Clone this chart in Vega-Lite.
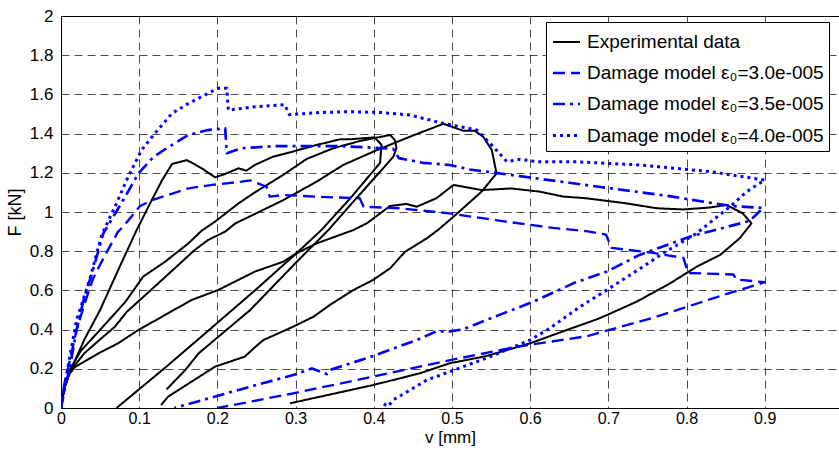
{
"$schema":"https://vega.github.io/schema/vega-lite/v6.json",
"width":778,"height":392,
"autosize":{"type":"none"},
"padding":{"left":61,"top":16,"right":0,"bottom":42},
"background":"white",
"config":{"view":{"stroke":"#000","strokeWidth":1},"font":"Liberation Sans"},
"datasets":{"pts":[
{"s":"Experimental data","g":"e1","i":1,"v":0,"F":0},
{"s":"Experimental data","g":"e1","i":2,"v":0.004,"F":0.1},
{"s":"Experimental data","g":"e1","i":3,"v":0.012,"F":0.19},
{"s":"Experimental data","g":"e1","i":4,"v":0.03,"F":0.35},
{"s":"Experimental data","g":"e1","i":5,"v":0.05,"F":0.5},
{"s":"Experimental data","g":"e1","i":6,"v":0.075,"F":0.72},
{"s":"Experimental data","g":"e1","i":7,"v":0.097,"F":0.91},
{"s":"Experimental data","g":"e1","i":8,"v":0.116,"F":1.06},
{"s":"Experimental data","g":"e1","i":9,"v":0.129,"F":1.16},
{"s":"Experimental data","g":"e1","i":10,"v":0.142,"F":1.245},
{"s":"Experimental data","g":"e1","i":11,"v":0.161,"F":1.265},
{"s":"Experimental data","g":"e1","i":12,"v":0.18,"F":1.223},
{"s":"Experimental data","g":"e1","i":13,"v":0.197,"F":1.177},
{"s":"Experimental data","g":"e1","i":14,"v":0.21,"F":1.194},
{"s":"Experimental data","g":"e1","i":15,"v":0.227,"F":1.223},
{"s":"Experimental data","g":"e1","i":16,"v":0.237,"F":1.211},
{"s":"Experimental data","g":"e1","i":17,"v":0.248,"F":1.24},
{"s":"Experimental data","g":"e1","i":18,"v":0.271,"F":1.282},
{"s":"Experimental data","g":"e1","i":19,"v":0.297,"F":1.309},
{"s":"Experimental data","g":"e1","i":20,"v":0.327,"F":1.342},
{"s":"Experimental data","g":"e1","i":21,"v":0.357,"F":1.371},
{"s":"Experimental data","g":"e1","i":22,"v":0.37,"F":1.371},
{"s":"Experimental data","g":"e1","i":23,"v":0.401,"F":1.381},
{"s":"Experimental data","g":"e1","i":24,"v":0.41,"F":1.342},
{"s":"Experimental data","g":"e1","i":25,"v":0.408,"F":1.25},
{"s":"Experimental data","g":"e1","i":26,"v":0.37,"F":1.07},
{"s":"Experimental data","g":"e1","i":27,"v":0.333,"F":0.908},
{"s":"Experimental data","g":"e1","i":28,"v":0.3,"F":0.785},
{"s":"Experimental data","g":"e1","i":29,"v":0.248,"F":0.6},
{"s":"Experimental data","g":"e1","i":30,"v":0.19,"F":0.4},
{"s":"Experimental data","g":"e1","i":31,"v":0.133,"F":0.205},
{"s":"Experimental data","g":"e1","i":32,"v":0.071,"F":0},
{"s":"Experimental data","g":"e2","i":33,"v":0,"F":0},
{"s":"Experimental data","g":"e2","i":34,"v":0.004,"F":0.1},
{"s":"Experimental data","g":"e2","i":35,"v":0.012,"F":0.2},
{"s":"Experimental data","g":"e2","i":36,"v":0.025,"F":0.29},
{"s":"Experimental data","g":"e2","i":37,"v":0.048,"F":0.39},
{"s":"Experimental data","g":"e2","i":38,"v":0.082,"F":0.54},
{"s":"Experimental data","g":"e2","i":39,"v":0.105,"F":0.67},
{"s":"Experimental data","g":"e2","i":40,"v":0.133,"F":0.746},
{"s":"Experimental data","g":"e2","i":41,"v":0.163,"F":0.84},
{"s":"Experimental data","g":"e2","i":42,"v":0.18,"F":0.905},
{"s":"Experimental data","g":"e2","i":43,"v":0.197,"F":0.951},
{"s":"Experimental data","g":"e2","i":44,"v":0.227,"F":1.044},
{"s":"Experimental data","g":"e2","i":45,"v":0.248,"F":1.1},
{"s":"Experimental data","g":"e2","i":46,"v":0.284,"F":1.189},
{"s":"Experimental data","g":"e2","i":47,"v":0.314,"F":1.27},
{"s":"Experimental data","g":"e2","i":48,"v":0.348,"F":1.325},
{"s":"Experimental data","g":"e2","i":49,"v":0.382,"F":1.362},
{"s":"Experimental data","g":"e2","i":50,"v":0.421,"F":1.393},
{"s":"Experimental data","g":"e2","i":51,"v":0.427,"F":1.367},
{"s":"Experimental data","g":"e2","i":52,"v":0.429,"F":1.325},
{"s":"Experimental data","g":"e2","i":53,"v":0.425,"F":1.282},
{"s":"Experimental data","g":"e2","i":54,"v":0.38,"F":1.08},
{"s":"Experimental data","g":"e2","i":55,"v":0.342,"F":0.908},
{"s":"Experimental data","g":"e2","i":56,"v":0.301,"F":0.744},
{"s":"Experimental data","g":"e2","i":57,"v":0.242,"F":0.5},
{"s":"Experimental data","g":"e2","i":58,"v":0.176,"F":0.279},
{"s":"Experimental data","g":"e2","i":59,"v":0.159,"F":0.194},
{"s":"Experimental data","g":"e2","i":60,"v":0.135,"F":0.095},
{"s":"Experimental data","g":"e3","i":61,"v":0,"F":0},
{"s":"Experimental data","g":"e3","i":62,"v":0.004,"F":0.1},
{"s":"Experimental data","g":"e3","i":63,"v":0.012,"F":0.19},
{"s":"Experimental data","g":"e3","i":64,"v":0.03,"F":0.28},
{"s":"Experimental data","g":"e3","i":65,"v":0.05,"F":0.35},
{"s":"Experimental data","g":"e3","i":66,"v":0.069,"F":0.415},
{"s":"Experimental data","g":"e3","i":67,"v":0.084,"F":0.49},
{"s":"Experimental data","g":"e3","i":68,"v":0.12,"F":0.62},
{"s":"Experimental data","g":"e3","i":69,"v":0.171,"F":0.806},
{"s":"Experimental data","g":"e3","i":70,"v":0.188,"F":0.857},
{"s":"Experimental data","g":"e3","i":71,"v":0.21,"F":0.9},
{"s":"Experimental data","g":"e3","i":72,"v":0.223,"F":0.942},
{"s":"Experimental data","g":"e3","i":73,"v":0.248,"F":0.99},
{"s":"Experimental data","g":"e3","i":74,"v":0.284,"F":1.06},
{"s":"Experimental data","g":"e3","i":75,"v":0.327,"F":1.155},
{"s":"Experimental data","g":"e3","i":76,"v":0.361,"F":1.24},
{"s":"Experimental data","g":"e3","i":77,"v":0.404,"F":1.316},
{"s":"Experimental data","g":"e3","i":78,"v":0.45,"F":1.39},
{"s":"Experimental data","g":"e3","i":79,"v":0.489,"F":1.45},
{"s":"Experimental data","g":"e3","i":80,"v":0.502,"F":1.432},
{"s":"Experimental data","g":"e3","i":81,"v":0.514,"F":1.415},
{"s":"Experimental data","g":"e3","i":82,"v":0.529,"F":1.415},
{"s":"Experimental data","g":"e3","i":83,"v":0.54,"F":1.384},
{"s":"Experimental data","g":"e3","i":84,"v":0.551,"F":1.316},
{"s":"Experimental data","g":"e3","i":85,"v":0.557,"F":1.197},
{"s":"Experimental data","g":"e3","i":86,"v":0.538,"F":1.104},
{"s":"Experimental data","g":"e3","i":87,"v":0.502,"F":0.976},
{"s":"Experimental data","g":"e3","i":88,"v":0.482,"F":0.908},
{"s":"Experimental data","g":"e3","i":89,"v":0.468,"F":0.866},
{"s":"Experimental data","g":"e3","i":90,"v":0.44,"F":0.797},
{"s":"Experimental data","g":"e3","i":91,"v":0.421,"F":0.713},
{"s":"Experimental data","g":"e3","i":92,"v":0.399,"F":0.653},
{"s":"Experimental data","g":"e3","i":93,"v":0.374,"F":0.602},
{"s":"Experimental data","g":"e3","i":94,"v":0.344,"F":0.526},
{"s":"Experimental data","g":"e3","i":95,"v":0.323,"F":0.466},
{"s":"Experimental data","g":"e3","i":96,"v":0.297,"F":0.415},
{"s":"Experimental data","g":"e3","i":97,"v":0.259,"F":0.347},
{"s":"Experimental data","g":"e3","i":98,"v":0.248,"F":0.31},
{"s":"Experimental data","g":"e3","i":99,"v":0.235,"F":0.262},
{"s":"Experimental data","g":"e3","i":100,"v":0.197,"F":0.211},
{"s":"Experimental data","g":"e3","i":101,"v":0.137,"F":0.058},
{"s":"Experimental data","g":"e3","i":102,"v":0.128,"F":0.015},
{"s":"Experimental data","g":"e4","i":103,"v":0,"F":0},
{"s":"Experimental data","g":"e4","i":104,"v":0.004,"F":0.1},
{"s":"Experimental data","g":"e4","i":105,"v":0.01,"F":0.17},
{"s":"Experimental data","g":"e4","i":106,"v":0.018,"F":0.21},
{"s":"Experimental data","g":"e4","i":107,"v":0.048,"F":0.279},
{"s":"Experimental data","g":"e4","i":108,"v":0.073,"F":0.33},
{"s":"Experimental data","g":"e4","i":109,"v":0.099,"F":0.398},
{"s":"Experimental data","g":"e4","i":110,"v":0.167,"F":0.551},
{"s":"Experimental data","g":"e4","i":111,"v":0.201,"F":0.602},
{"s":"Experimental data","g":"e4","i":112,"v":0.248,"F":0.696},
{"s":"Experimental data","g":"e4","i":113,"v":0.284,"F":0.746},
{"s":"Experimental data","g":"e4","i":114,"v":0.301,"F":0.789},
{"s":"Experimental data","g":"e4","i":115,"v":0.327,"F":0.84},
{"s":"Experimental data","g":"e4","i":116,"v":0.374,"F":0.908},
{"s":"Experimental data","g":"e4","i":117,"v":0.391,"F":0.942},
{"s":"Experimental data","g":"e4","i":118,"v":0.421,"F":1.031},
{"s":"Experimental data","g":"e4","i":119,"v":0.442,"F":1.041},
{"s":"Experimental data","g":"e4","i":120,"v":0.455,"F":1.027},
{"s":"Experimental data","g":"e4","i":121,"v":0.48,"F":1.07},
{"s":"Experimental data","g":"e4","i":122,"v":0.502,"F":1.138},
{"s":"Experimental data","g":"e4","i":123,"v":0.538,"F":1.112},
{"s":"Experimental data","g":"e4","i":124,"v":0.576,"F":1.12},
{"s":"Experimental data","g":"e4","i":125,"v":0.612,"F":1.104},
{"s":"Experimental data","g":"e4","i":126,"v":0.642,"F":1.079},
{"s":"Experimental data","g":"e4","i":127,"v":0.672,"F":1.07},
{"s":"Experimental data","g":"e4","i":128,"v":0.723,"F":1.044},
{"s":"Experimental data","g":"e4","i":129,"v":0.762,"F":1.019},
{"s":"Experimental data","g":"e4","i":130,"v":0.796,"F":1.013},
{"s":"Experimental data","g":"e4","i":131,"v":0.83,"F":1.023},
{"s":"Experimental data","g":"e4","i":132,"v":0.851,"F":1.036},
{"s":"Experimental data","g":"e4","i":133,"v":0.872,"F":0.993},
{"s":"Experimental data","g":"e4","i":134,"v":0.883,"F":0.942},
{"s":"Experimental data","g":"e4","i":135,"v":0.868,"F":0.866},
{"s":"Experimental data","g":"e4","i":136,"v":0.843,"F":0.781},
{"s":"Experimental data","g":"e4","i":137,"v":0.813,"F":0.721},
{"s":"Experimental data","g":"e4","i":138,"v":0.779,"F":0.636},
{"s":"Experimental data","g":"e4","i":139,"v":0.736,"F":0.542},
{"s":"Experimental data","g":"e4","i":140,"v":0.698,"F":0.474},
{"s":"Experimental data","g":"e4","i":141,"v":0.685,"F":0.452},
{"s":"Experimental data","g":"e4","i":142,"v":0.642,"F":0.391},
{"s":"Experimental data","g":"e4","i":143,"v":0.6,"F":0.33},
{"s":"Experimental data","g":"e4","i":144,"v":0.544,"F":0.265},
{"s":"Experimental data","g":"e4","i":145,"v":0.497,"F":0.228},
{"s":"Experimental data","g":"e4","i":146,"v":0.459,"F":0.177},
{"s":"Experimental data","g":"e4","i":147,"v":0.399,"F":0.117},
{"s":"Experimental data","g":"e4","i":148,"v":0.293,"F":0.024},
{"s":"Damage model ε₀=3.0e-005","g":"a","i":201,"v":0,"F":0},
{"s":"Damage model ε₀=3.0e-005","g":"a","i":202,"v":0.004,"F":0.12},
{"s":"Damage model ε₀=3.0e-005","g":"a","i":203,"v":0.01,"F":0.22},
{"s":"Damage model ε₀=3.0e-005","g":"a","i":204,"v":0.02,"F":0.4},
{"s":"Damage model ε₀=3.0e-005","g":"a","i":205,"v":0.03,"F":0.53},
{"s":"Damage model ε₀=3.0e-005","g":"a","i":206,"v":0.041,"F":0.66},
{"s":"Damage model ε₀=3.0e-005","g":"a","i":207,"v":0.055,"F":0.77},
{"s":"Damage model ε₀=3.0e-005","g":"a","i":208,"v":0.073,"F":0.9},
{"s":"Damage model ε₀=3.0e-005","g":"a","i":209,"v":0.08,"F":0.928},
{"s":"Damage model ε₀=3.0e-005","g":"a","i":210,"v":0.101,"F":1.03},
{"s":"Damage model ε₀=3.0e-005","g":"a","i":211,"v":0.116,"F":1.06},
{"s":"Damage model ε₀=3.0e-005","g":"a","i":212,"v":0.137,"F":1.087},
{"s":"Damage model ε₀=3.0e-005","g":"a","i":213,"v":0.163,"F":1.121},
{"s":"Damage model ε₀=3.0e-005","g":"a","i":214,"v":0.193,"F":1.138},
{"s":"Damage model ε₀=3.0e-005","g":"a","i":215,"v":0.231,"F":1.155},
{"s":"Damage model ε₀=3.0e-005","g":"a","i":216,"v":0.242,"F":1.161},
{"s":"Damage model ε₀=3.0e-005","g":"a","i":217,"v":0.263,"F":1.129},
{"s":"Damage model ε₀=3.0e-005","g":"a","i":218,"v":0.267,"F":1.078},
{"s":"Damage model ε₀=3.0e-005","g":"a","i":219,"v":0.284,"F":1.087},
{"s":"Damage model ε₀=3.0e-005","g":"a","i":220,"v":0.327,"F":1.078},
{"s":"Damage model ε₀=3.0e-005","g":"a","i":221,"v":0.382,"F":1.07},
{"s":"Damage model ε₀=3.0e-005","g":"a","i":222,"v":0.387,"F":1.027},
{"s":"Damage model ε₀=3.0e-005","g":"a","i":223,"v":0.434,"F":1.019},
{"s":"Damage model ε₀=3.0e-005","g":"a","i":224,"v":0.497,"F":0.993},
{"s":"Damage model ε₀=3.0e-005","g":"a","i":225,"v":0.565,"F":0.953},
{"s":"Damage model ε₀=3.0e-005","g":"a","i":226,"v":0.629,"F":0.919},
{"s":"Damage model ε₀=3.0e-005","g":"a","i":227,"v":0.672,"F":0.902},
{"s":"Damage model ε₀=3.0e-005","g":"a","i":228,"v":0.697,"F":0.885},
{"s":"Damage model ε₀=3.0e-005","g":"a","i":229,"v":0.704,"F":0.817},
{"s":"Damage model ε₀=3.0e-005","g":"a","i":230,"v":0.757,"F":0.791},
{"s":"Damage model ε₀=3.0e-005","g":"a","i":231,"v":0.796,"F":0.766},
{"s":"Damage model ε₀=3.0e-005","g":"a","i":232,"v":0.802,"F":0.689},
{"s":"Damage model ε₀=3.0e-005","g":"a","i":233,"v":0.86,"F":0.681},
{"s":"Damage model ε₀=3.0e-005","g":"a","i":234,"v":0.864,"F":0.655},
{"s":"Damage model ε₀=3.0e-005","g":"a","i":235,"v":0.9,"F":0.642},
{"s":"Damage model ε₀=3.0e-005","g":"a","i":236,"v":0.842,"F":0.57},
{"s":"Damage model ε₀=3.0e-005","g":"a","i":237,"v":0.757,"F":0.46},
{"s":"Damage model ε₀=3.0e-005","g":"a","i":238,"v":0.672,"F":0.366},
{"s":"Damage model ε₀=3.0e-005","g":"a","i":239,"v":0.587,"F":0.315},
{"s":"Damage model ε₀=3.0e-005","g":"a","i":240,"v":0.501,"F":0.247},
{"s":"Damage model ε₀=3.0e-005","g":"a","i":241,"v":0.399,"F":0.16},
{"s":"Damage model ε₀=3.0e-005","g":"a","i":242,"v":0.297,"F":0.075},
{"s":"Damage model ε₀=3.0e-005","g":"a","i":243,"v":0.242,"F":0.032},
{"s":"Damage model ε₀=3.0e-005","g":"a","i":244,"v":0.2,"F":0},
{"s":"Damage model ε₀=3.5e-005","g":"b","i":301,"v":0,"F":0},
{"s":"Damage model ε₀=3.5e-005","g":"b","i":302,"v":0.005,"F":0.1},
{"s":"Damage model ε₀=3.5e-005","g":"b","i":303,"v":0.0115,"F":0.213},
{"s":"Damage model ε₀=3.5e-005","g":"b","i":304,"v":0.02,"F":0.4},
{"s":"Damage model ε₀=3.5e-005","g":"b","i":305,"v":0.029,"F":0.553},
{"s":"Damage model ε₀=3.5e-005","g":"b","i":306,"v":0.041,"F":0.706},
{"s":"Damage model ε₀=3.5e-005","g":"b","i":307,"v":0.054,"F":0.89},
{"s":"Damage model ε₀=3.5e-005","g":"b","i":308,"v":0.08,"F":1.064},
{"s":"Damage model ε₀=3.5e-005","g":"b","i":309,"v":0.099,"F":1.197},
{"s":"Damage model ε₀=3.5e-005","g":"b","i":310,"v":0.118,"F":1.28},
{"s":"Damage model ε₀=3.5e-005","g":"b","i":311,"v":0.135,"F":1.325},
{"s":"Damage model ε₀=3.5e-005","g":"b","i":312,"v":0.163,"F":1.393},
{"s":"Damage model ε₀=3.5e-005","g":"b","i":313,"v":0.188,"F":1.418},
{"s":"Damage model ε₀=3.5e-005","g":"b","i":314,"v":0.21,"F":1.427},
{"s":"Damage model ε₀=3.5e-005","g":"b","i":315,"v":0.212,"F":1.3},
{"s":"Damage model ε₀=3.5e-005","g":"b","i":316,"v":0.231,"F":1.325},
{"s":"Damage model ε₀=3.5e-005","g":"b","i":317,"v":0.272,"F":1.336},
{"s":"Damage model ε₀=3.5e-005","g":"b","i":318,"v":0.314,"F":1.336},
{"s":"Damage model ε₀=3.5e-005","g":"b","i":319,"v":0.357,"F":1.336},
{"s":"Damage model ε₀=3.5e-005","g":"b","i":320,"v":0.4,"F":1.328},
{"s":"Damage model ε₀=3.5e-005","g":"b","i":321,"v":0.425,"F":1.322},
{"s":"Damage model ε₀=3.5e-005","g":"b","i":322,"v":0.432,"F":1.275},
{"s":"Damage model ε₀=3.5e-005","g":"b","i":323,"v":0.463,"F":1.251},
{"s":"Damage model ε₀=3.5e-005","g":"b","i":324,"v":0.497,"F":1.24},
{"s":"Damage model ε₀=3.5e-005","g":"b","i":325,"v":0.523,"F":1.217},
{"s":"Damage model ε₀=3.5e-005","g":"b","i":326,"v":0.587,"F":1.183},
{"s":"Damage model ε₀=3.5e-005","g":"b","i":327,"v":0.65,"F":1.149},
{"s":"Damage model ε₀=3.5e-005","g":"b","i":328,"v":0.714,"F":1.115},
{"s":"Damage model ε₀=3.5e-005","g":"b","i":329,"v":0.778,"F":1.081},
{"s":"Damage model ε₀=3.5e-005","g":"b","i":330,"v":0.83,"F":1.047},
{"s":"Damage model ε₀=3.5e-005","g":"b","i":331,"v":0.86,"F":1.03},
{"s":"Damage model ε₀=3.5e-005","g":"b","i":332,"v":0.898,"F":1.021},
{"s":"Damage model ε₀=3.5e-005","g":"b","i":333,"v":0.881,"F":0.955},
{"s":"Damage model ε₀=3.5e-005","g":"b","i":334,"v":0.804,"F":0.874},
{"s":"Damage model ε₀=3.5e-005","g":"b","i":335,"v":0.74,"F":0.781},
{"s":"Damage model ε₀=3.5e-005","g":"b","i":336,"v":0.698,"F":0.696},
{"s":"Damage model ε₀=3.5e-005","g":"b","i":337,"v":0.655,"F":0.636},
{"s":"Damage model ε₀=3.5e-005","g":"b","i":338,"v":0.604,"F":0.542},
{"s":"Damage model ε₀=3.5e-005","g":"b","i":339,"v":0.549,"F":0.457},
{"s":"Damage model ε₀=3.5e-005","g":"b","i":340,"v":0.514,"F":0.401},
{"s":"Damage model ε₀=3.5e-005","g":"b","i":341,"v":0.497,"F":0.391},
{"s":"Damage model ε₀=3.5e-005","g":"b","i":342,"v":0.48,"F":0.391},
{"s":"Damage model ε₀=3.5e-005","g":"b","i":343,"v":0.455,"F":0.347},
{"s":"Damage model ε₀=3.5e-005","g":"b","i":344,"v":0.399,"F":0.265},
{"s":"Damage model ε₀=3.5e-005","g":"b","i":345,"v":0.344,"F":0.194},
{"s":"Damage model ε₀=3.5e-005","g":"b","i":346,"v":0.34,"F":0.173},
{"s":"Damage model ε₀=3.5e-005","g":"b","i":347,"v":0.321,"F":0.202},
{"s":"Damage model ε₀=3.5e-005","g":"b","i":348,"v":0.297,"F":0.168},
{"s":"Damage model ε₀=3.5e-005","g":"b","i":349,"v":0.242,"F":0.109},
{"s":"Damage model ε₀=3.5e-005","g":"b","i":350,"v":0.145,"F":0},
{"s":"Damage model ε₀=4.0e-005","g":"c","i":401,"v":0,"F":0},
{"s":"Damage model ε₀=4.0e-005","g":"c","i":402,"v":0.004,"F":0.1},
{"s":"Damage model ε₀=4.0e-005","g":"c","i":403,"v":0.009,"F":0.213},
{"s":"Damage model ε₀=4.0e-005","g":"c","i":404,"v":0.02,"F":0.45},
{"s":"Damage model ε₀=4.0e-005","g":"c","i":405,"v":0.037,"F":0.66},
{"s":"Damage model ε₀=4.0e-005","g":"c","i":406,"v":0.052,"F":0.883},
{"s":"Damage model ε₀=4.0e-005","g":"c","i":407,"v":0.069,"F":1.027},
{"s":"Damage model ε₀=4.0e-005","g":"c","i":408,"v":0.086,"F":1.181},
{"s":"Damage model ε₀=4.0e-005","g":"c","i":409,"v":0.103,"F":1.316},
{"s":"Damage model ε₀=4.0e-005","g":"c","i":410,"v":0.12,"F":1.401},
{"s":"Damage model ε₀=4.0e-005","g":"c","i":411,"v":0.142,"F":1.503},
{"s":"Damage model ε₀=4.0e-005","g":"c","i":412,"v":0.163,"F":1.554},
{"s":"Damage model ε₀=4.0e-005","g":"c","i":413,"v":0.184,"F":1.597},
{"s":"Damage model ε₀=4.0e-005","g":"c","i":414,"v":0.201,"F":1.631},
{"s":"Damage model ε₀=4.0e-005","g":"c","i":415,"v":0.212,"F":1.631},
{"s":"Damage model ε₀=4.0e-005","g":"c","i":416,"v":0.214,"F":1.52},
{"s":"Damage model ε₀=4.0e-005","g":"c","i":417,"v":0.248,"F":1.537},
{"s":"Damage model ε₀=4.0e-005","g":"c","i":418,"v":0.286,"F":1.548},
{"s":"Damage model ε₀=4.0e-005","g":"c","i":419,"v":0.292,"F":1.497},
{"s":"Damage model ε₀=4.0e-005","g":"c","i":420,"v":0.327,"F":1.507},
{"s":"Damage model ε₀=4.0e-005","g":"c","i":421,"v":0.37,"F":1.512},
{"s":"Damage model ε₀=4.0e-005","g":"c","i":422,"v":0.412,"F":1.507},
{"s":"Damage model ε₀=4.0e-005","g":"c","i":423,"v":0.446,"F":1.495},
{"s":"Damage model ε₀=4.0e-005","g":"c","i":424,"v":0.472,"F":1.469},
{"s":"Damage model ε₀=4.0e-005","g":"c","i":425,"v":0.489,"F":1.452},
{"s":"Damage model ε₀=4.0e-005","g":"c","i":426,"v":0.506,"F":1.439},
{"s":"Damage model ε₀=4.0e-005","g":"c","i":427,"v":0.532,"F":1.418},
{"s":"Damage model ε₀=4.0e-005","g":"c","i":428,"v":0.553,"F":1.333},
{"s":"Damage model ε₀=4.0e-005","g":"c","i":429,"v":0.57,"F":1.257},
{"s":"Damage model ε₀=4.0e-005","g":"c","i":430,"v":0.587,"F":1.269},
{"s":"Damage model ε₀=4.0e-005","g":"c","i":431,"v":0.608,"F":1.257},
{"s":"Damage model ε₀=4.0e-005","g":"c","i":432,"v":0.655,"F":1.257},
{"s":"Damage model ε₀=4.0e-005","g":"c","i":433,"v":0.74,"F":1.24},
{"s":"Damage model ε₀=4.0e-005","g":"c","i":434,"v":0.83,"F":1.206},
{"s":"Damage model ε₀=4.0e-005","g":"c","i":435,"v":0.9,"F":1.163},
{"s":"Damage model ε₀=4.0e-005","g":"c","i":436,"v":0.877,"F":1.104},
{"s":"Damage model ε₀=4.0e-005","g":"c","i":437,"v":0.856,"F":1.028},
{"s":"Damage model ε₀=4.0e-005","g":"c","i":438,"v":0.834,"F":0.959},
{"s":"Damage model ε₀=4.0e-005","g":"c","i":439,"v":0.813,"F":0.891},
{"s":"Damage model ε₀=4.0e-005","g":"c","i":440,"v":0.77,"F":0.789},
{"s":"Damage model ε₀=4.0e-005","g":"c","i":441,"v":0.74,"F":0.71},
{"s":"Damage model ε₀=4.0e-005","g":"c","i":442,"v":0.698,"F":0.602},
{"s":"Damage model ε₀=4.0e-005","g":"c","i":443,"v":0.664,"F":0.517},
{"s":"Damage model ε₀=4.0e-005","g":"c","i":444,"v":0.625,"F":0.407},
{"s":"Damage model ε₀=4.0e-005","g":"c","i":445,"v":0.6,"F":0.347},
{"s":"Damage model ε₀=4.0e-005","g":"c","i":446,"v":0.549,"F":0.262},
{"s":"Damage model ε₀=4.0e-005","g":"c","i":447,"v":0.497,"F":0.185},
{"s":"Damage model ε₀=4.0e-005","g":"c","i":448,"v":0.468,"F":0.143},
{"s":"Damage model ε₀=4.0e-005","g":"c","i":449,"v":0.425,"F":0.041},
{"s":"Damage model ε₀=4.0e-005","g":"c","i":450,"v":0.418,"F":0.008},
{"s":"Damage model ε₀=4.0e-005","g":"c","i":451,"v":0.41,"F":0.028}
]},
"data":{"name":"pts"},
"mark":{"type":"line","strokeJoin":"round","strokeCap":"butt","clip":true},
"encoding":{
"x":{"field":"v","type":"quantitative",
 "scale":{"domain":[0,0.995],"nice":false,"zero":false},
 "axis":{"title":"v [mm]","values":[0,0.1,0.2,0.3,0.4,0.5,0.6,0.7,0.8,0.9],"format":"~g",
  "grid":true,"gridDash":[8,5],"gridColor":"#000","gridOpacity":0.7,"gridWidth":1,
  "ticks":false,"domainColor":"#000","domainWidth":1,
  "labelFont":"Liberation Sans Narrow, Liberation Sans","labelFontSize":16,"labelColor":"#000","labelPadding":2,"labelFlush":false,
  "titleFont":"Liberation Sans Narrow, Liberation Sans","titleFontSize":17,"titleFontWeight":"normal","titleColor":"#000","titlePadding":3}},
"y":{"field":"F","type":"quantitative",
 "scale":{"domain":[0,2],"nice":false,"zero":false},
 "axis":{"title":"F [kN]","values":[0,0.2,0.4,0.6,0.8,1,1.2,1.4,1.6,1.8,2],"format":"~g",
  "grid":true,"gridDash":[8,5],"gridColor":"#000","gridOpacity":0.7,"gridWidth":1,
  "ticks":false,"domainColor":"#000","domainWidth":1,
  "labelFont":"Liberation Sans Narrow, Liberation Sans","labelFontSize":17,"labelColor":"#000","labelPadding":8,"labelFlush":false,
  "titleFont":"Liberation Sans Narrow, Liberation Sans","titleFontSize":18,"titleFontWeight":"normal","titleColor":"#000","titlePadding":5}},
"color":{"field":"s","type":"nominal",
 "scale":{"domain":["Experimental data","Damage model ε₀=3.0e-005","Damage model ε₀=3.5e-005","Damage model ε₀=4.0e-005"],"range":["#000000","#0000ff","#0000ff","#0000ff"]},
 "legend":{"title":null,"orient":"none","legendX":485,"legendY":6,"strokeColor":"#000","fillColor":"#fff","padding":5,
  "labelFont":"Liberation Sans","labelFontSize":19,"labelColor":"#000","labelLimit":400,"labelOffset":5,
  "symbolType":"stroke","symbolSize":730,"symbolStrokeWidth":2.5,"rowPadding":6,"cornerRadius":0}},
"strokeDash":{"field":"s","type":"nominal",
 "scale":{"domain":["Experimental data","Damage model ε₀=3.0e-005","Damage model ε₀=3.5e-005","Damage model ε₀=4.0e-005"],"range":[[1,0],[12,6],[12,5,3,5],[3,4]]},
 "legend":{"title":null}},
"strokeWidth":{"field":"s","type":"nominal",
 "scale":{"domain":["Experimental data","Damage model ε₀=3.0e-005","Damage model ε₀=3.5e-005","Damage model ε₀=4.0e-005"],"range":[2,3,3,3]},
 "legend":{"title":null}},
"detail":{"field":"g","type":"nominal"},
"order":{"field":"i","type":"quantitative"}
}
}
